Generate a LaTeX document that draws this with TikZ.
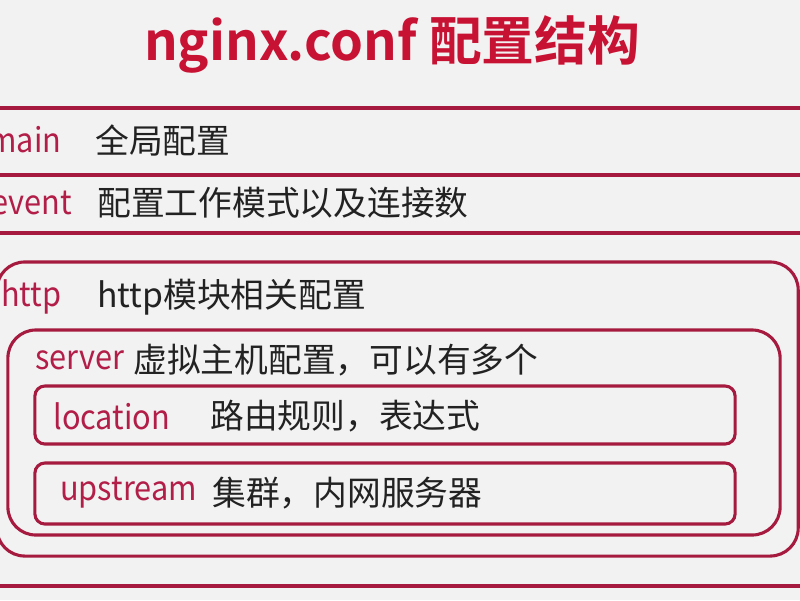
\documentclass[tikz,border=0pt]{standalone}
\usepackage{graphicx}
\usepackage{fontspec}
\setmainfont{Noto Sans CJK SC}
\newfontfamily\titlefont{Noto Sans CJK SC Bold}
\usetikzlibrary{positioning}

\definecolor{pagebg}{RGB}{242,242,242}
\definecolor{linered}{RGB}{165,26,62}
\definecolor{keyred}{RGB}{178,30,72}
\definecolor{titlered}{RGB}{200,18,52}
\definecolor{textdark}{RGB}{34,34,34}

\newcommand{\keyword}[1]{\scalebox{0.91}[1]{#1}}

\tikzstyle{band} = [draw=linered, line width=2.2pt, rectangle, inner sep=0pt]
\tikzstyle{outerbox} = [band, rounded corners=0.7cm]
\tikzstyle{innerbox} = [band, rounded corners=0.25cm]
\tikzstyle{key} = [anchor=west, inner sep=0pt, text=keyred, font=\fontsize{24}{28}\selectfont]
\tikzstyle{desc} = [anchor=west, inner sep=0pt, text=textdark, font=\fontsize{24}{28}\selectfont]

\begin{document}
\begin{tikzpicture}[x=0.025cm, y=-0.025cm]
		\fill[pagebg] (0,0) rectangle (800,600);
		\useasboundingbox (0,0) rectangle (800,600);
		\clip (0,0) rectangle (800,600);

		\node [text=titlered, font=\titlefont\fontsize{37.5}{42}\selectfont] (title) at (392,44) {nginx.conf 配置结构};

		% flat bands
		\node [band, minimum width=20.5cm, minimum height=1.675cm] (mainbox) at (400,141.5) {};
		\node [band, minimum width=20.5cm, minimum height=1.45cm] (eventbox) at (400,204) {};

		% nested blocks
		\node [outerbox, minimum width=20.03cm, minimum height=7.35cm] (httpbox) at (397.5,409) {};
		\node [outerbox, minimum width=19.3cm, minimum height=5.125cm] (serverbox) at (394,432.5) {};
		\node [innerbox, minimum width=17.5cm, minimum height=1.45cm] (locationbox) at (385,415) {};
		\node [innerbox, minimum width=17.5cm, minimum height=1.525cm] (upstreambox) at (385,493.5) {};

		\coordinate (lineL) at (-10,586);
		\coordinate (lineR) at (810,586);
		\draw [draw=linered, line width=2.2pt] (lineL) -- (lineR);

		\node [key] (mainkey) at (-12,140) {\keyword{main}};
		\node [desc] (maindesc) at (95,140) {全局配置};
		\node [key] (eventkey) at (-9,203) {\keyword{event}};
		\node [desc] (eventdesc) at (97,203) {配置工作模式以及连接数};
		\node [key] (httpkey) at (1,297) {\keyword{http}};
		\node [desc] (httpdesc) at (97,297) {http模块相关配置};
		\node [key] (serverkey) at (35,360) {\keyword{server}};
		\node [desc] (serverdesc) at (133,360) {虚拟主机配置，可以有多个};
		\node [key] (locationkey) at (53,416) {\keyword{location}};
		\node [desc] (locationdesc) at (210,416) {路由规则，表达式};
		\node [key] (upstreamkey) at (60,493) {\keyword{upstream}};
		\node [desc] (upstreamdesc) at (212,493) {集群，内网服务器};
	\end{tikzpicture}
\end{document}
